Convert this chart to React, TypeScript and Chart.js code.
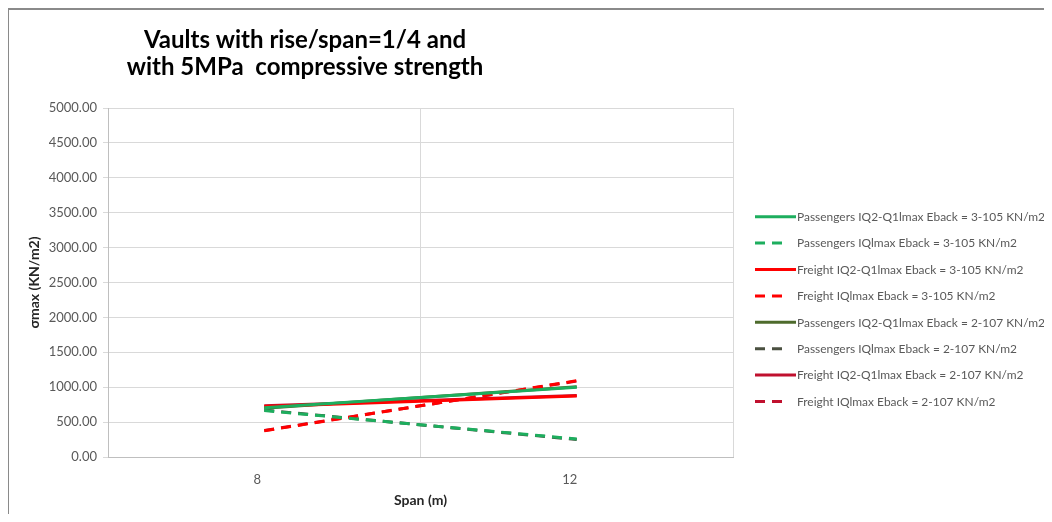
import React, { useEffect, useRef } from "react";
import { Chart, registerables } from "chart.js";

Chart.register(...registerables);

const spans = ["8", "12"];
const passengersQ2Q1_3105 = [705, 1000];
const passengersIQ_3105 = [665, 258];
const freightQ2Q1_3105 = [722, 875];
const freightIQ_3105 = [375, 1093];
const passengersQ2Q1_2107 = [700, 1005];
const passengersIQ_2107 = [672, 250];
const freightQ2Q1_2107 = [735, 880];
const freightIQ_2107 = [380, 1088];

const seriesLabels = [
  "Passengers IQ2-Q1lmax Eback = 3-105 KN/m2",
  "Passengers IQlmax Eback = 3-105 KN/m2",
  "Freight IQ2-Q1lmax Eback = 3-105 KN/m2",
  "Freight IQlmax Eback = 3-105 KN/m2",
  "Passengers IQ2-Q1lmax Eback = 2-107 KN/m2",
  "Passengers IQlmax Eback = 2-107 KN/m2",
  "Freight IQ2-Q1lmax Eback = 2-107 KN/m2",
  "Freight IQlmax Eback = 2-107 KN/m2",
];
const titleLines = ["Vaults with rise/span=1/4 and", "with 5MPa  compressive strength"];
const yTicks = { min: 0, max: 5000, step: 500 };

const DASH = [10, 7];

const titlePlugin = {
  id: "customTitle",
  afterDraw(chart: any) {
    const ctx = chart.ctx;
    ctx.save();
    ctx.fillStyle = "#000000";
    ctx.font = "bold 24px Lato";
    ctx.textAlign = "center";
    ctx.textBaseline = "alphabetic";
    ctx.fillText(titleLines[0], 297, 40);
    ctx.fillText(titleLines[1], 297, 67);
    ctx.restore();
  },
};

const legendPlugin = {
  id: "customLegend",
  afterDraw(chart: any) {
    const ctx = chart.ctx;
    ctx.save();
    chart.data.datasets.forEach((ds: any, i: number) => {
      const y = 208.7 + i * 26.4;
      ctx.strokeStyle = ds.borderColor;
      ctx.lineWidth = 3;
      ctx.setLineDash(ds.borderDash || []);
      ctx.beginPath();
      ctx.moveTo(747, y);
      ctx.lineTo(ds.borderDash ? 781 : 788, y);
      ctx.stroke();
      ctx.setLineDash([]);
      ctx.fillStyle = "#595959";
      ctx.font = "12px Lato";
      ctx.textAlign = "left";
      ctx.textBaseline = "middle";
      const w = ctx.measureText(ds.label).width;
      const maxW = 248 * (w / ctx.measureText(seriesLabels[4]).width);
      ctx.fillText(ds.label, 789, y + 0.5, maxW);
    });
    ctx.restore();
  },
};

export default function App() {
  const ref = useRef<HTMLCanvasElement | null>(null);
  useEffect(() => {
    if (!ref.current) return;
    const mk = (label: string, data: number[], color: string, dashed: boolean) => ({
      label,
      data,
      borderColor: color,
      backgroundColor: color,
      borderWidth: 3,
      borderDash: dashed ? DASH : undefined,
      pointRadius: 0,
      tension: 0,
    });
    const chart = new Chart(ref.current, {
      type: "line",
      data: {
        labels: spans,
        datasets: [
          mk(seriesLabels[0], passengersQ2Q1_3105, "#1DAE5E", false),
          mk(seriesLabels[1], passengersIQ_3105, "#1DAE5E", true),
          mk(seriesLabels[2], freightQ2Q1_3105, "#FF0000", false),
          mk(seriesLabels[3], freightIQ_3105, "#FF0000", true),
          mk(seriesLabels[4], passengersQ2Q1_2107, "#4E6B2C", false),
          mk(seriesLabels[5], passengersIQ_2107, "#4A5040", true),
          mk(seriesLabels[6], freightQ2Q1_2107, "#C0102E", false),
          mk(seriesLabels[7], freightIQ_2107, "#C0102E", true),
        ] as any,
      },
      options: {
        animation: false,
        responsive: true,
        maintainAspectRatio: false,
        layout: { padding: { top: 100, right: 319, left: 0, bottom: 0 } },
        plugins: {
          legend: { display: false },
          title: { display: false },
          tooltip: { enabled: false },
        },
        scales: {
          x: {
            type: "category",
            offset: true,
            grid: { offset: true, color: "#d9d9d9", drawTicks: false },
            border: { color: "#bfbfbf" },
            ticks: { padding: 15, labelOffset: -7, color: "#595959", font: { family: "Lato", size: 13 } },
            title: {
              display: true,
              text: "Span (m)",
              color: "#262626",
              font: { family: "Lato", size: 14, weight: "bold" },
              padding: { top: 0, bottom: 5 },
            },
            afterFit: (s: any) => {
              s.height = 57;
            },
          },
          y: {
            min: yTicks.min,
            max: yTicks.max,
            grid: { color: "#d9d9d9", tickLength: 5 },
            border: { color: "#bfbfbf" },
            ticks: {
              stepSize: yTicks.step,
              padding: 6,
              color: "#595959",
              font: { family: "Lato", size: 13 },
              callback: (v: any) => Number(v).toFixed(2),
            },
            title: {
              display: true,
              text: "σmax (KN/m2)",
              color: "#262626",
              font: { family: "Lato", size: 14, weight: "bold" },
              padding: { top: 18, bottom: 0 },
            },
            afterFit: (s: any) => {
              s.width = 100;
            },
          },
        },
      } as any,
      plugins: [titlePlugin, legendPlugin],
    });
    return () => chart.destroy();
  }, []);
  return (
    <div style={{ position: "relative", width: 1044, height: 506, background: "#ffffff" }}>
      <canvas ref={ref} style={{ position: "absolute", left: 0, top: 0 }} />
      <div
        style={{
          position: "absolute",
          left: -1,
          top: 0,
          right: 0,
          bottom: 0,
          borderTop: "2px solid #8a8a8a",
          borderLeft: "2px solid #8a8a8a",
          pointerEvents: "none",
        }}
      />
    </div>
  );
}
